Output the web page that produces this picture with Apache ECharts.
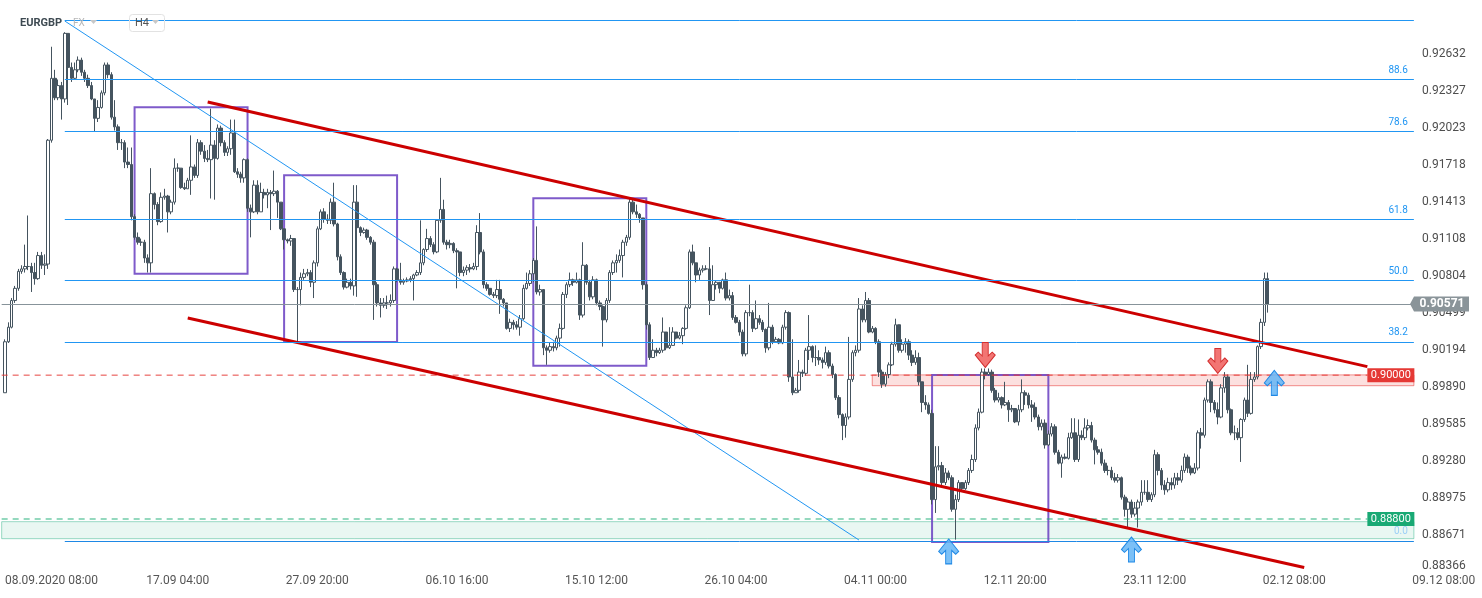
<!DOCTYPE html>
<html><head><meta charset="utf-8">
<script src="https://cdn.jsdelivr.net/npm/echarts@6/dist/echarts.min.js"></script>
<style>html,body{margin:0;padding:0;background:#fff}#c{width:1482px;height:598px}</style>
</head><body><div id="c"></div>
<script>
// ---------- DATA ----------
const symbolName = 'EURGBP';
const marketName = 'FX';
const timeframe = 'H4';
const firstOpen = 0.8984;
const lastPrice = 0.90571;
const closes = [
0.9026,0.9038,0.9060,0.9070,0.9084,0.9086,0.9088,0.9088,0.9083,0.9078,
0.9097,0.9089,0.9090,0.9192,0.9243,0.9227,0.9237,0.9226,0.9280,0.9252,
0.9243,0.9250,0.9258,0.9248,0.9243,0.9237,0.9226,0.9210,0.9219,0.9231,
0.9254,0.9246,0.9211,0.9203,0.9190,0.9190,0.9174,0.9172,0.9129,0.9112,
0.9108,0.9108,0.9095,0.9091,0.9148,0.9139,0.9125,0.9145,0.9146,0.9133,
0.9141,0.9169,0.9169,0.9153,0.9152,0.9159,0.9170,0.9163,0.9190,0.9183,
0.9177,0.9176,0.9188,0.9177,0.9202,0.9190,0.9182,0.9185,0.9198,0.9166,
0.9164,0.9161,0.9176,0.9136,0.9133,0.9155,0.9133,0.9149,0.9147,0.9149,
0.9148,0.9150,0.9141,0.9119,0.9110,0.9109,0.9111,0.9069,0.9069,0.9079,
0.9082,0.9083,0.9075,0.9091,0.9119,0.9133,0.9127,0.9126,0.9141,0.9123,
0.9096,0.9083,0.9071,0.9075,0.9072,0.9141,0.9120,0.9116,0.9118,0.9112,
0.9108,0.9073,0.9058,0.9056,0.9058,0.9058,0.9060,0.9086,0.9077,0.9075,
0.9076,0.9077,0.9078,0.9081,0.9083,0.9091,0.9102,0.9111,0.9106,0.9100,
0.9126,0.9135,0.9108,0.9106,0.9107,0.9101,0.9100,0.9083,0.9085,0.9087,
0.9086,0.9088,0.9116,0.9100,0.9073,0.9070,0.9065,0.9064,0.9069,0.9061,
0.9058,0.9037,0.9042,0.9040,0.9038,0.9045,0.9070,0.9074,0.9082,0.9093,
0.9067,0.9069,0.9021,0.9019,0.9022,0.9021,0.9029,0.9037,0.9065,0.9073,
0.9077,0.9075,0.9077,0.9048,0.9089,0.9075,0.9063,0.9077,0.9058,0.9055,
0.9044,0.9060,0.9083,0.9091,0.9093,0.9097,0.9108,0.9112,0.9141,0.9133,
0.9131,0.9128,0.9073,0.9040,0.9013,0.9019,0.9017,0.9019,0.9034,0.9021,
0.9023,0.9034,0.9029,0.9031,0.9037,0.9054,0.9100,0.9091,0.9081,0.9085,
0.9086,0.9086,0.9060,0.9073,0.9075,0.9070,0.9077,0.9062,0.9064,0.9046,
0.9042,0.9034,0.9016,0.9050,0.9050,0.9037,0.9045,0.9042,0.9036,0.9021,
0.9038,0.9026,0.9028,0.9025,0.9038,0.9050,0.8997,0.8984,0.8986,0.9001,
0.9000,0.9019,0.9022,0.9013,0.9013,0.9011,0.9009,0.9017,0.9006,0.8999,
0.8980,0.8966,0.8957,0.8964,0.8995,0.9017,0.9019,0.9053,0.9044,0.9060,
0.9034,0.9037,0.9026,0.9001,0.8991,0.8999,0.9007,0.9024,0.9040,0.9019,
0.9024,0.9026,0.9015,0.9009,0.9013,0.8993,0.8976,0.8974,0.8967,0.8896,
0.8923,0.8924,0.8910,0.8918,0.8914,0.8888,0.8896,0.8910,0.8905,0.8910,
0.8920,0.8929,0.8955,0.8968,0.9001,0.8999,0.9001,0.8986,0.8978,0.8980,
0.8974,0.8976,0.8970,0.8971,0.8960,0.8970,0.8984,0.8982,0.8974,0.8972,
0.8964,0.8956,0.8959,0.8941,0.8950,0.8956,0.8935,0.8926,0.8931,0.8930,
0.8947,0.8951,0.8929,0.8949,0.8947,0.8955,0.8957,0.8945,0.8937,0.8935,
0.8926,0.8920,0.8920,0.8914,0.8912,0.8914,0.8898,0.8888,0.8894,0.8884,
0.8889,0.8894,0.8902,0.8902,0.8896,0.8900,0.8933,0.8920,0.8908,0.8904,
0.8910,0.8908,0.8914,0.8912,0.8920,0.8931,0.8922,0.8918,0.8922,0.8951,
0.8949,0.8978,0.8993,0.8976,0.8970,0.8964,0.8988,0.8997,0.8970,0.8951,
0.8951,0.8947,0.8962,0.8978,0.8967,0.8995,0.8997,0.9022,0.9042,0.9078,
0.90571];
const highs = [
0.9028,0.9042,0.9062,0.9072,0.9086,0.9089,0.9106,0.9130,0.9091,0.9091,
0.9100,0.9100,0.9098,0.9193,0.9269,0.9250,0.9242,0.9240,0.9281,0.9279,
0.9256,0.9256,0.9261,0.9260,0.9250,0.9246,0.9240,0.9226,0.9225,0.9233,
0.9256,0.9256,0.9248,0.9225,0.9205,0.9193,0.9192,0.9186,0.9186,0.9131,
0.9116,0.9111,0.9110,0.9098,0.9169,0.9149,0.9141,0.9149,0.9152,0.9147,
0.9143,0.9177,0.9173,0.9164,0.9157,0.9161,0.9196,0.9172,0.9193,0.9192,
0.9188,0.9184,0.9218,0.9192,0.9205,0.9204,0.9192,0.9187,0.9209,0.9209,
0.9169,0.9166,0.9177,0.9177,0.9139,0.9159,0.9159,0.9157,0.9152,0.9152,
0.9151,0.9167,0.9151,0.9135,0.9112,0.9111,0.9114,0.9110,0.9071,0.9083,
0.9086,0.9086,0.9085,0.9093,0.9121,0.9135,0.9136,0.9131,0.9144,0.9157,
0.9124,0.9098,0.9084,0.9078,0.9078,0.9155,0.9155,0.9121,0.9120,0.9119,
0.9113,0.9110,0.9075,0.9062,0.9062,0.9064,0.9065,0.9088,0.9087,0.9091,
0.9078,0.9079,0.9080,0.9082,0.9085,0.9126,0.9103,0.9119,0.9113,0.9108,
0.9127,0.9161,0.9143,0.9110,0.9110,0.9108,0.9103,0.9100,0.9088,0.9089,
0.9090,0.9091,0.9122,0.9132,0.9102,0.9075,0.9070,0.9067,0.9077,0.9077,
0.9062,0.9058,0.9045,0.9044,0.9043,0.9048,0.9073,0.9083,0.9085,0.9095,
0.9121,0.9073,0.9069,0.9023,0.9025,0.9026,0.9031,0.9041,0.9067,0.9075,
0.9083,0.9078,0.9083,0.9078,0.9108,0.9090,0.9077,0.9080,0.9078,0.9060,
0.9056,0.9062,0.9085,0.9093,0.9098,0.9102,0.9110,0.9114,0.9145,0.9143,
0.9139,0.9132,0.9128,0.9075,0.9042,0.9028,0.9021,0.9021,0.9046,0.9034,
0.9038,0.9038,0.9034,0.9034,0.9038,0.9056,0.9102,0.9106,0.9091,0.9087,
0.9089,0.9089,0.9104,0.9089,0.9076,0.9075,0.9078,0.9083,0.9069,0.9067,
0.9048,0.9044,0.9036,0.9052,0.9073,0.9052,0.9060,0.9048,0.9044,0.9037,
0.9058,0.9040,0.9030,0.9029,0.9040,0.9052,0.9051,0.9028,0.8988,0.9011,
0.9003,0.9021,0.9048,0.9023,0.9023,0.9019,0.9013,0.9022,0.9019,0.9008,
0.9000,0.8982,0.8967,0.8967,0.9030,0.9019,0.9023,0.9062,0.9056,0.9067,
0.9062,0.9039,0.9038,0.9028,0.9003,0.9001,0.9009,0.9026,0.9045,0.9028,
0.9028,0.9029,0.9028,0.9019,0.9019,0.9017,0.8993,0.8982,0.8976,0.8970,
0.8940,0.8940,0.8927,0.8922,0.8920,0.8916,0.8900,0.8912,0.8910,0.8912,
0.8922,0.8933,0.8958,0.8971,0.9004,0.9004,0.9004,0.9003,0.8988,0.8984,
0.8981,0.8993,0.8978,0.8974,0.8971,0.8974,0.8995,0.8986,0.8984,0.8978,
0.8976,0.8966,0.8962,0.8962,0.8953,0.8959,0.8958,0.8937,0.8933,0.8934,
0.8951,0.8963,0.8963,0.8962,0.8953,0.8963,0.8962,0.8960,0.8947,0.8940,
0.8938,0.8929,0.8924,0.8923,0.8918,0.8917,0.8915,0.8900,0.8897,0.8896,
0.8894,0.8896,0.8912,0.8912,0.8912,0.8902,0.8937,0.8935,0.8922,0.8912,
0.8914,0.8914,0.8918,0.8918,0.8924,0.8934,0.8933,0.8924,0.8926,0.8953,
0.8955,0.8980,0.8995,0.8995,0.8978,0.8976,0.8991,0.9001,0.8999,0.8971,
0.8957,0.8955,0.8963,0.8980,0.9007,0.9001,0.9001,0.9023,0.9045,0.9083,
0.9083];
const lows = [
0.8984,0.9025,0.9037,0.9058,0.9068,0.9082,0.9083,0.9085,0.9067,0.9073,
0.9077,0.9086,0.9081,0.9086,0.9190,0.9225,0.9225,0.9209,0.9223,0.9221,
0.9240,0.9242,0.9248,0.9245,0.9240,0.9235,0.9225,0.9199,0.9207,0.9218,
0.9229,0.9243,0.9209,0.9200,0.9184,0.9184,0.9169,0.9169,0.9126,0.9110,
0.9106,0.9105,0.9091,0.9083,0.9083,0.9135,0.9122,0.9124,0.9143,0.9116,
0.9131,0.9139,0.9166,0.9152,0.9151,0.9154,0.9147,0.9161,0.9161,0.9180,
0.9174,0.9174,0.9144,0.9143,0.9176,0.9187,0.9179,0.9179,0.9180,0.9165,
0.9161,0.9157,0.9157,0.9133,0.9112,0.9132,0.9131,0.9146,0.9144,0.9136,
0.9118,0.9146,0.9128,0.9118,0.9102,0.9107,0.9105,0.9067,0.9026,0.9056,
0.9077,0.9080,0.9071,0.9062,0.9088,0.9118,0.9124,0.9123,0.9123,0.9121,
0.9093,0.9081,0.9069,0.9070,0.9069,0.9064,0.9063,0.9113,0.9115,0.9110,
0.9106,0.9044,0.9055,0.9046,0.9054,0.9053,0.9055,0.9058,0.9075,0.9073,
0.9073,0.9075,0.9075,0.9060,0.9080,0.9081,0.9089,0.9100,0.9104,0.9098,
0.9099,0.9124,0.9106,0.9102,0.9103,0.9099,0.9070,0.9080,0.9080,0.9081,
0.9083,0.9085,0.9085,0.9098,0.9070,0.9068,0.9064,0.9062,0.9062,0.9049,
0.9055,0.9036,0.9034,0.9036,0.9036,0.9031,0.9044,0.9069,0.9072,0.9075,
0.9065,0.9064,0.9015,0.9007,0.9017,0.9018,0.9019,0.9022,0.9036,0.9062,
0.9071,0.9072,0.9074,0.9044,0.9046,0.9073,0.9060,0.9061,0.9056,0.9052,
0.9022,0.9042,0.9058,0.9081,0.9083,0.9091,0.9079,0.9105,0.9110,0.9131,
0.9128,0.9124,0.9069,0.9036,0.9011,0.9013,0.9014,0.9016,0.9017,0.9019,
0.9020,0.9024,0.9028,0.9028,0.9024,0.9036,0.9053,0.9089,0.9075,0.9077,
0.9083,0.9085,0.9048,0.9060,0.9069,0.9066,0.9069,0.9060,0.9060,0.9044,
0.9041,0.9031,0.9014,0.9014,0.9047,0.9034,0.9036,0.9040,0.9034,0.9017,
0.9019,0.9024,0.9025,0.9024,0.9024,0.9036,0.8993,0.8982,0.8984,0.8984,
0.8997,0.8998,0.9011,0.9009,0.9006,0.9007,0.9004,0.9007,0.9004,0.8996,
0.8978,0.8963,0.8945,0.8947,0.8962,0.8993,0.9014,0.9017,0.9042,0.9042,
0.9033,0.9033,0.9024,0.8997,0.8988,0.8989,0.8996,0.9006,0.9022,0.9017,
0.9017,0.9017,0.9011,0.9006,0.9007,0.8990,0.8968,0.8970,0.8966,0.8892,
0.8885,0.8920,0.8907,0.8908,0.8912,0.8886,0.8863,0.8894,0.8904,0.8904,
0.8908,0.8918,0.8927,0.8953,0.8967,0.8995,0.8998,0.8984,0.8976,0.8976,
0.8971,0.8973,0.8960,0.8968,0.8959,0.8957,0.8968,0.8974,0.8971,0.8960,
0.8962,0.8953,0.8953,0.8938,0.8940,0.8948,0.8933,0.8925,0.8914,0.8929,
0.8929,0.8946,0.8927,0.8927,0.8945,0.8945,0.8953,0.8943,0.8925,0.8933,
0.8924,0.8918,0.8916,0.8912,0.8910,0.8910,0.8896,0.8882,0.8873,0.8881,
0.8882,0.8873,0.8891,0.8900,0.8894,0.8894,0.8898,0.8916,0.8904,0.8900,
0.8902,0.8904,0.8905,0.8908,0.8910,0.8918,0.8918,0.8916,0.8917,0.8920,
0.8938,0.8947,0.8976,0.8968,0.8967,0.8958,0.8963,0.8984,0.8967,0.8949,
0.8945,0.8945,0.8927,0.8960,0.8964,0.8966,0.8993,0.8995,0.9020,0.9039,
0.9050];
const yTickLabels = ['0.92632','0.92327','0.92023','0.91718','0.91413','0.91108','0.90804','0.90499','0.90194','0.89890','0.89585','0.89280','0.88975','0.88671','0.88366'];
const xLabels = ['08.09.2020 08:00','17.09 04:00','27.09 20:00','06.10 16:00','15.10 12:00','26.10 04:00','04.11 00:00','12.11 20:00','23.11 12:00','02.12 08:00','09.12 08:00'];
const xLabelIdx = [15,53,95,137,179,221,263,305,347,389,434];
const fibZero = 0.88619, fibHundred = 0.92910;
const fibRatios = [0, 0.382, 0.5, 0.618, 0.786, 0.886, 1];
const fibNames = ['0.0','38.2','50.0','61.8','78.6','88.6',''];
const level90000 = 0.89985, level90000Text = '0.90000';
const level88800 = 0.88800, level88800Text = '0.88800';
const greenZone = [0.88778, 0.88638];
const pinkZone = [0.89987, 0.89898];
// rectangles: [startIdx, endIdx, top, bottom]
const boxes = [[39.8,73.9,0.92191,0.90821],[85.1,119.3,0.91631,0.90258],[160.0,194.2,0.91442,0.90063],[280.2,314.6,0.89987,0.88611]];
// trend lines: [[idx, value],[idx, value]]
const upperTrend = [[61.5,0.92235],[410.6,0.90055]];
const lowerTrend = [[56.4,0.90456],[392.2,0.88401]];
const blueDiagonal = [[19.06,0.92902],[257.7,0.88627]];
const downArrows = [[296,0.90151],[366,0.90102]];
const upArrows = [[285,0.88533],[340,0.88549],[383,0.89921]];

// ---------- CHART ----------
const N_CAT = 446;
const categories = new Array(N_CAT).fill('');
xLabelIdx.forEach((k, j) => categories[k] = xLabels[j]);
const labelSet = new Set(xLabelIdx);

const candleData = [['-','-','-','-']];
let prev = firstOpen;
for (let k = 0; k < closes.length; k++) {
  const o = prev, c = closes[k];
  const h = Math.max(highs[k] ?? c, o, c), l = Math.min(lows[k] ?? c, o, c);
  candleData.push([o, c, l, h]);
  prev = c;
}

const yMax = 0.93075, yMin = 0.88380;
const END = 424.7, TAG_END = 410.6;
const blue = '#2196f3';

function hl(v, x0, x1, style, label) {
  return [{coord:[x0, v], lineStyle: style, label: label || {show:false}}, {coord:[x1, v]}];
}
const markLines = [];
fibRatios.forEach((r, j) => {
  const v = fibZero + r * (fibHundred - fibZero);
  markLines.push(hl(v, 19.06, END, {color: j===0 ? '#1e88e5' : blue, width:1, type:'solid'},
    fibNames[j] ? {show:true, position:'insideEndTop', formatter: fibNames[j], color: j===0 ? '#9ccff7' : blue, fontSize:10, fontFamily:'Roboto', distance:[6,4]} : {show:false}));
});
markLines.push(hl(lastPrice, 0, END, {color:'#87939a', width:1, type:'solid'}));

const dashedLines = [
  {v: level90000, text: level90000Text, line:'#e53935', tag:'#e53935'},
  {v: level88800, text: level88800Text, line:'#1fae76', tag:'#19a974'}
];

const boxAreas = boxes.map(b => [{coord:[b[0], b[2]], itemStyle:{color:'rgba(0,0,0,0)', borderColor:'rgba(112,72,196,0.9)', borderWidth:2}}, {coord:[b[1], b[3]]}]);

const upPath = 'path://M10,0 L20,13 L17,16 L13,12 L13,26 L7,26 L7,12 L3,16 L0,13 Z';
const downPath = 'path://M10,26 L20,13 L17,10 L13,14 L13,0 L7,0 L7,14 L3,10 L0,13 Z';
const arrowPoints = [];
downArrows.forEach(a => arrowPoints.push({coord:a, symbol:downPath, symbolSize:[20,25], itemStyle:{color:'rgba(239,83,80,0.8)', borderColor:'#d32f2f', borderWidth:1}}));
upArrows.forEach(a => arrowPoints.push({coord:a, symbol:upPath, symbolSize:[20,25], itemStyle:{color:'rgba(100,181,246,0.85)', borderColor:'#1e88e5', borderWidth:1}}));

const trendSeries = [blueDiagonal, upperTrend, lowerTrend].map((t, j) => ({
  type:'line', z:4, silent:true, symbol:'none', animation:false,
  data:[[t[0][0], t[0][1]], [t[1][0], t[1][1]]],
  lineStyle: j === 0 ? {color:blue, width:1} : {color:'#cc0000', width:3}
}));

const dashedSeries = dashedLines.map(d => ({
  type:'line', z:3, silent:true, symbol:'none', animation:false,
  data:[[0, d.v], [TAG_END, d.v]],
  itemStyle:{color:d.line},
  lineStyle:{color:d.line, width:1, type:[6,5], opacity:0.95}
}));

const chart = echarts.init(document.getElementById('c'), null, {renderer:'canvas'});
chart.setOption({
  animation:false,
  backgroundColor:'#ffffff',
  grid:{left:0, right:0, top:0, bottom:28, containLabel:false},
  xAxis:{type:'category', data:categories, boundaryGap:true,
    axisLine:{show:false}, axisTick:{show:false}, splitLine:{show:false},
    axisLabel:{interval:(i)=>labelSet.has(i), color:'#555', fontSize:12, fontFamily:'Roboto', margin:5, showMinLabel:true, showMaxLabel:true, hideOverlap:false}},
  yAxis:{type:'value', min:yMin, max:yMax, show:false, scale:true},
  series:[
    {type:'line', data:[], z:1, silent:true,
      markArea:{silent:true, data:[
        [{coord:[0, greenZone[0]], itemStyle:{color:'rgba(38,176,130,0.10)', borderColor:'rgba(38,176,130,0.45)', borderWidth:1}}, {coord:[END, greenZone[1]]}],
        [{coord:[262.2, pinkZone[0]], itemStyle:{color:'rgba(239,83,80,0.18)', borderColor:'rgba(229,57,53,0.55)', borderWidth:1}}, {coord:[END, pinkZone[1]]}]
      ]}},
    {type:'candlestick', data:candleData, z:2, barWidth:3,
      itemStyle:{color:'#ffffff', color0:'#45545f', borderColor:'#45545f', borderColor0:'#45545f', borderWidth:1}},
    {type:'line', data:[], z:3, silent:true,
      markLine:{silent:true, symbol:['none','none'], animation:false, data:markLines},
      markArea:{silent:true, data:boxAreas},
      markPoint:{silent:true, label:{show:false}, data:arrowPoints}},
    ...dashedSeries,
    ...trendSeries
  ]
});

// ---------- TEXT OVERLAYS ----------
const g = [];
yTickLabels.forEach(t => {
  let y = chart.convertToPixel({yAxisIndex:0}, parseFloat(t));
  y = Math.min(y, 566);
  g.push({type:'text', x:1422, y:y, z:10, style:{text:t, fill:'#4e4e4e', font:'12px Roboto', align:'left', verticalAlign:'middle'}});
});
// level tags
dashedLines.forEach(d => {
  const x0 = chart.convertToPixel({xAxisIndex:0}, Math.round(TAG_END));
  const y = chart.convertToPixel({yAxisIndex:0}, d.v);
  g.push({type:'rect', z:20, shape:{x:x0, y:y-7, width:47, height:14}, style:{fill:d.tag}});
  g.push({type:'text', z:21, x:x0+23.5, y:y+0.5, style:{text:d.text, fill:'#ffffff', font:'11px Roboto', align:'center', verticalAlign:'middle'}});
});
const py = chart.convertToPixel({yAxisIndex:0}, lastPrice);
g.push({type:'polygon', z:20, shape:{points:[[1410,py],[1414,py-7.5],[1469,py-7.5],[1469,py+7.5],[1414,py+7.5]]}, style:{fill:'#8a9499'}});
g.push({type:'text', z:21, x:1442, y:py, style:{text:lastPrice.toFixed(5), fill:'#ffffff', font:'bold 12px Roboto', align:'center', verticalAlign:'middle'}});
// header
g.push({type:'text', z:20, x:20, y:23, style:{text:symbolName, fill:'#3e4a52', font:'bold 11px Roboto', align:'left', verticalAlign:'middle'}});
g.push({type:'text', z:20, x:73, y:23, style:{text:marketName, fill:'#b8b8b8', font:'10px Roboto', align:'left', verticalAlign:'middle'}});
g.push({type:'polygon', z:20, shape:{points:[[90,20],[97,20],[93.5,24]]}, style:{fill:'#c8c8c8'}});
g.push({type:'rect', z:20, shape:{x:129.5, y:14.5, width:35, height:17, r:3}, style:{fill:'rgba(255,255,255,0)', stroke:'#e2e2e2', lineWidth:1}});
g.push({type:'text', z:21, x:135, y:23, style:{text:timeframe, fill:'#555', font:'11px Roboto', align:'left', verticalAlign:'middle'}});
g.push({type:'polygon', z:21, shape:{points:[[152,20],[159,20],[155.5,24]]}, style:{fill:'#c8c8c8'}});
chart.setOption({graphic:g});
</script>
</body></html>
